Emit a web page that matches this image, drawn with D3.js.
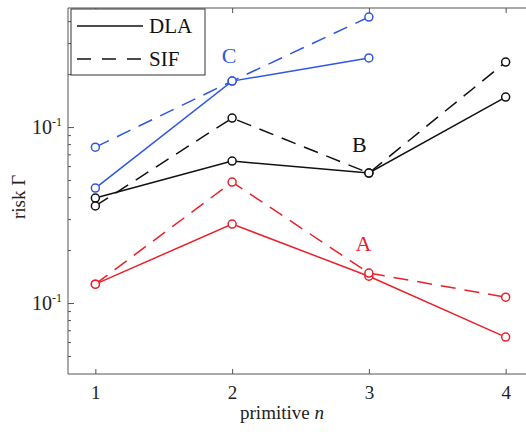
<!DOCTYPE html>
<html>
<head>
<meta charset="utf-8">
<script src="https://cdn.jsdelivr.net/npm/d3@7"></script>
<style>
  html, body { margin: 0; padding: 0; background: #fff; }
  svg { display: block; }
  text { font-family: "Liberation Serif", "Times New Roman", "DejaVu Serif", serif; }
</style>
</head>
<body>
<svg id="chart" width="526" height="432"></svg>
<script>
// Primitive index on the x axis
const primitives = [1, 2, 3, 4];

// Risk Γ per primitive, by group and method
const dlaA = [0.128, 0.281, 0.142, 0.064];
const sifA = [0.128, 0.487, 0.148, 0.108];
const dlaB = [0.395, 0.641, 0.548, 1.48];
const sifB = [0.356, 1.125, 0.548, 2.34];
const dlaC = [0.450, 1.825, 2.47];
const sifC = [0.769, 1.825, 4.22];

// Labelled decades and minor tick values on the log axis
const majorTicks = [0.1, 1];
const majorLabels = ["10", "10"];
const majorExps = ["-1", "-1"];
const minorTicks = [0.05, 0.06, 0.07, 0.08, 0.09, 0.2, 0.3, 0.4, 0.5, 0.6, 0.7, 0.8, 0.9, 2, 3, 4];

const series = [
  { values: dlaA, color: "#e8212b", dashed: false },
  { values: sifA, color: "#e8212b", dashed: true },
  { values: dlaB, color: "#111111", dashed: false },
  { values: sifB, color: "#111111", dashed: true },
  { values: dlaC, color: "#2f56e0", dashed: false },
  { values: sifC, color: "#2f56e0", dashed: true }
];

const groupLabels = [
  { text: "C", n: 1.977, v: 2.31, color: "#2f56e0" },
  { text: "B", n: 2.93, v: 0.72, color: "#111111" },
  { text: "A", n: 2.96, v: 0.197, color: "#e8212b" }
];

const svg = d3.select("#chart");
const plotL = 68, plotR = 533, plotT = 8, plotB = 374;

const x = d3.scaleLinear().domain([0.8, 4.2]).range([plotL, plotR]);
const y = d3.scaleLog().domain([0.0395, 4.75]).range([plotB, plotT]);

const axisColor = "#555";
const serif = "Liberation Serif, Times New Roman, serif";

// Frame
svg.append("line").attr("x1", plotL).attr("x2", plotL).attr("y1", plotT).attr("y2", plotB)
  .attr("stroke", axisColor).attr("stroke-width", 1);
svg.append("line").attr("x1", plotL).attr("x2", plotR).attr("y1", plotB).attr("y2", plotB)
  .attr("stroke", axisColor).attr("stroke-width", 1);
svg.append("line").attr("x1", plotL).attr("x2", plotR).attr("y1", plotT).attr("y2", plotT)
  .attr("stroke", axisColor).attr("stroke-width", 1);

// X ticks (inward, bottom and top)
const xAxis = d3.axisBottom(x).tickValues(primitives).tickSize(-5).tickPadding(12).tickFormat(d3.format("d"));
const gx = svg.append("g").attr("transform", `translate(0,${plotB})`).call(xAxis);
gx.attr("font-family", serif);
gx.select(".domain").remove();
gx.selectAll(".tick line").attr("stroke", axisColor);
gx.selectAll(".tick text").attr("font-size", 19).attr("fill", "#222");

const gxt = svg.append("g").attr("transform", `translate(0,${plotT})`)
  .call(d3.axisTop(x).tickValues(primitives).tickSize(-5).tickFormat(""));
gxt.select(".domain").remove();
gxt.selectAll(".tick line").attr("stroke", axisColor);

// Y ticks: major and minor, inward
const gyMinor = svg.append("g").attr("transform", `translate(${plotL},0)`)
  .call(d3.axisLeft(y).tickValues(minorTicks).tickSize(-3).tickFormat(""));
gyMinor.select(".domain").remove();
gyMinor.selectAll(".tick line").attr("stroke", axisColor);

const gy = svg.append("g").attr("transform", `translate(${plotL},0)`)
  .call(d3.axisLeft(y).tickValues(majorTicks).tickSize(-6).tickFormat(""));
gy.select(".domain").remove();
gy.selectAll(".tick line").attr("stroke", axisColor);

majorTicks.forEach((t, i) => {
  const lbl = svg.append("text")
    .attr("x", plotL - 6).attr("y", y(t) + 7)
    .attr("text-anchor", "end").attr("font-size", 20).attr("fill", "#222");
  lbl.append("tspan").text(majorLabels[i]);
  lbl.append("tspan").attr("dy", -8).attr("font-size", 12).text(majorExps[i]);
});

// Axis titles
svg.append("text")
  .attr("transform", `translate(25,${(plotT + plotB) / 2 + 6}) rotate(-90)`)
  .attr("text-anchor", "middle").attr("font-size", 19).attr("fill", "#222")
  .text("risk Γ");

const xt = svg.append("text")
  .attr("x", 282).attr("y", 419)
  .attr("text-anchor", "middle").attr("font-size", 19).attr("fill", "#222");
xt.append("tspan").text("primitive ");
xt.append("tspan").attr("font-style", "italic").text("n");

// Series lines and open markers
const line = d3.line().x((d, i) => x(primitives[i])).y(d => y(d));
series.forEach(s => {
  svg.append("path")
    .attr("d", line(s.values))
    .attr("fill", "none")
    .attr("stroke", s.color)
    .attr("stroke-width", 1.5)
    .attr("stroke-dasharray", s.dashed ? "15,9" : null);
  svg.selectAll(null).data(s.values).enter().append("circle")
    .attr("cx", (d, i) => x(primitives[i]))
    .attr("cy", d => y(d))
    .attr("r", 4)
    .attr("fill", "#fff")
    .attr("stroke", s.color)
    .attr("stroke-width", 1.5);
});

// Group labels
groupLabels.forEach(g => {
  svg.append("text")
    .attr("x", x(g.n)).attr("y", y(g.v))
    .attr("text-anchor", "middle").attr("font-size", 22).attr("fill", g.color)
    .text(g.text);
});

// Legend
const leg = svg.append("g");
leg.append("rect").attr("x", 71).attr("y", 9).attr("width", 134).attr("height", 66)
  .attr("fill", "#fff").attr("stroke", "#333").attr("stroke-width", 1);
const legendItems = [
  { label: "DLA", dashed: false, yy: 26 },
  { label: "SIF", dashed: true, yy: 59 }
];
legendItems.forEach(it => {
  leg.append("line").attr("x1", 77).attr("x2", 143).attr("y1", it.yy).attr("y2", it.yy)
    .attr("stroke", "#111").attr("stroke-width", 1.5)
    .attr("stroke-dasharray", it.dashed ? "14,11" : null);
  leg.append("text").attr("x", 149).attr("y", it.yy + 7)
    .attr("font-size", 21).attr("fill", "#111").text(it.label);
});
</script>
</body>
</html>
